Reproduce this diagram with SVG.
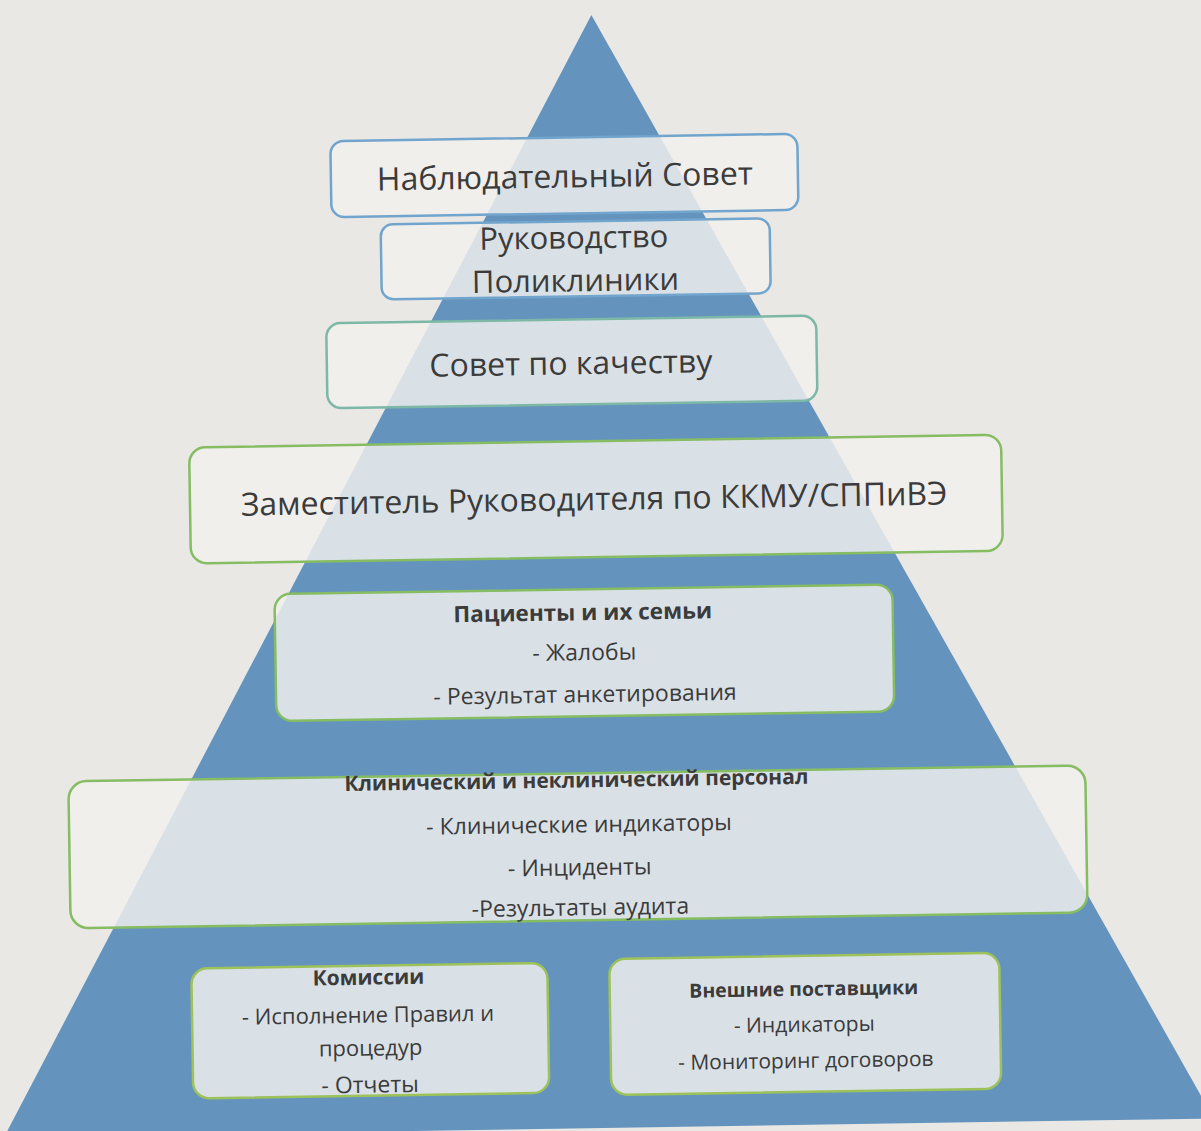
<svg xmlns="http://www.w3.org/2000/svg" width="1201" height="1131" viewBox="0 0 1201 1131">
<style>
.box{fill:#f1efed;fill-opacity:0.84;stroke-width:2.5}
.bl{stroke:#72a5cd}
.tl{stroke:#7db8a6}
.gr{stroke:#86bd63}
.yg{stroke:#9dc25a}
text{font-family:"Open Sans","Noto Sans","DejaVu Sans",sans-serif;fill:#3b3b3b;text-anchor:middle}
.big{font-size:32px}
.sm{font-size:21px}
.md{font-size:23px}
.b{font-weight:bold}
</style>
<rect x="0" y="0" width="1201" height="1131" fill="#e9e8e5"/>
<g transform="rotate(-0.9 600 565)">
<polygon id="pyramid" points="600,15 1205,1128 -5,1128" fill="#6494be"/>
<g id="connectors"/>
<g id="node-supervisory">
<rect class="box bl" x="337" y="137" width="467" height="76" rx="13"/>
<text class="big" x="571" y="187">Наблюдательный Совет</text>
</g>
<g id="node-management">
<rect class="box bl" x="386" y="221" width="389" height="75" rx="12"/>
<text style="font-size:31px" x="579" y="248">Руководство</text>
<text style="font-size:31px" x="580" y="291">Поликлиники</text>
</g>
<g id="node-quality-council">
<rect class="box tl" x="330" y="319" width="490" height="85" rx="14"/>
<text class="big" x="574" y="374">Совет по качеству</text>
</g>
<g id="node-deputy">
<rect class="box gr" x="191" y="441" width="812" height="116" rx="16"/>
<text class="big" x="595" y="510">Заместитель Руководителя по ККМУ/СППиВЭ</text>
</g>
<g id="node-patients">
<rect class="box gr" x="274" y="589" width="618" height="127" rx="16"/>
<text class="b" style="font-size:22.5px" x="582" y="620">Пациенты и их семьи</text>
<text class="md" x="583" y="660">-  Жалобы</text>
<text class="md" x="583" y="702">- Результат анкетирования</text>
</g>
<g id="node-staff">
<rect class="box gr" x="65" y="773" width="1017" height="147" rx="18"/>
<text class="sm b" x="573" y="787">Клинический и неклинический персонал</text>
<text class="md" x="575" y="832">- Клинические индикаторы</text>
<text class="md" x="575" y="875">- Инциденты</text>
<text class="md" x="575" y="915">-Результаты аудита</text>
</g>
<g id="node-commissions">
<rect class="box yg" x="185" y="962" width="356" height="130" rx="16"/>
<text class="sm b" x="362" y="981">Комиссии</text>
<text style="font-size:22px" x="361" y="1019">- Исполнение Правил и</text>
<text style="font-size:22px" x="363" y="1052">процедур</text>
<text class="md" x="362" y="1089">- Отчеты</text>
</g>
<g id="node-suppliers">
<rect class="box yg" x="603" y="959" width="390" height="136" rx="16"/>
<text class="b" style="font-size:19.5px" x="797" y="999">Внешние поставщики</text>
<text class="sm" x="797" y="1035">-  Индикаторы</text>
<text class="sm" x="798" y="1071">- Мониторинг договоров</text>
</g>
</g>
</svg>
